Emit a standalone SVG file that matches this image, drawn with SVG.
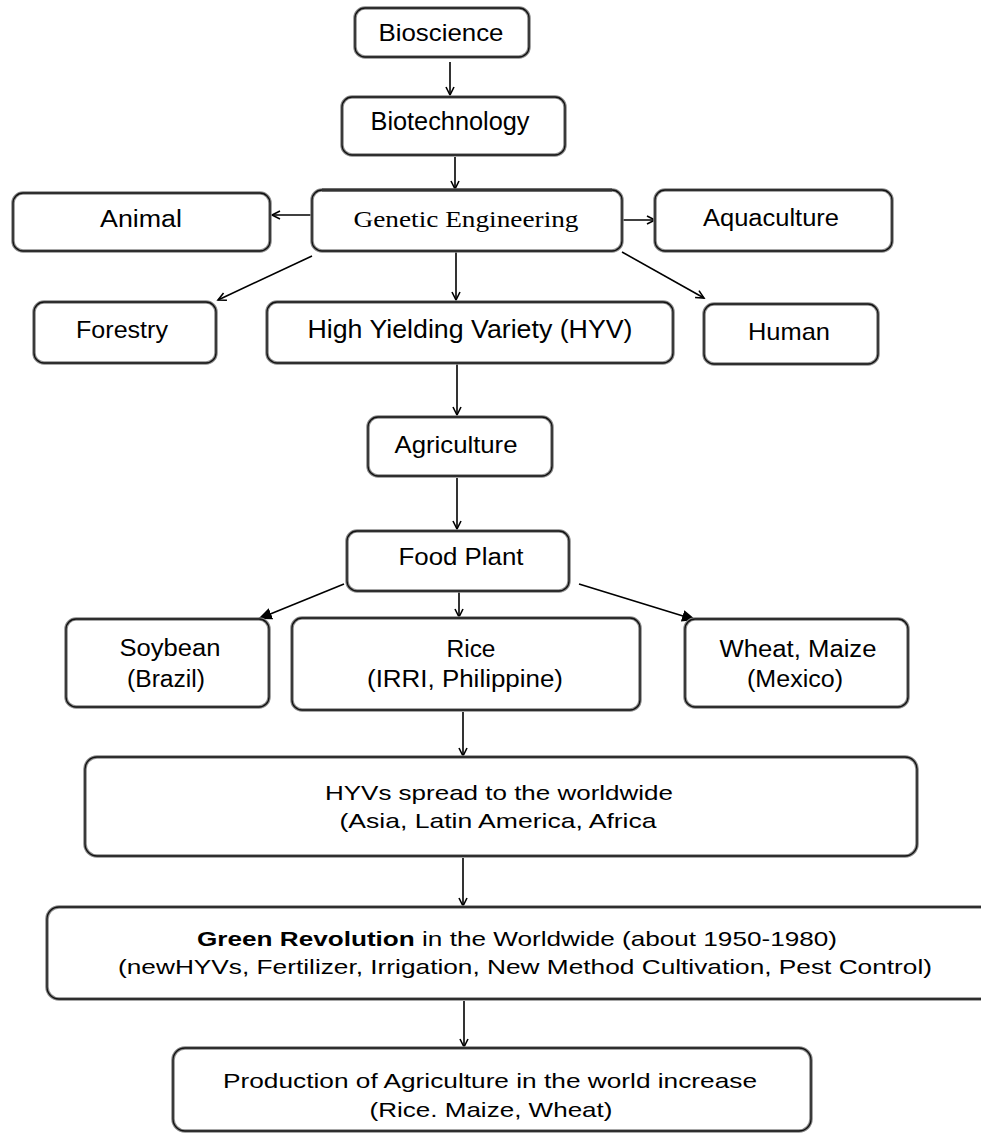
<svg xmlns="http://www.w3.org/2000/svg" width="981" height="1135" viewBox="0 0 981 1135">
<style>
.bx{fill:#fff;stroke:#8a8a8a;stroke-width:3.5}
.bl{fill:none;stroke:#111;stroke-width:1.3}
.t{font-family:"Liberation Sans",Arial,sans-serif;fill:#000;text-anchor:middle}
.s{font-family:"Liberation Serif","Times New Roman",serif;fill:#000;text-anchor:middle}
.c{stroke:#000;stroke-width:1.6;fill:none}
</style>
<defs>
<marker id="ar" markerUnits="userSpaceOnUse" markerWidth="12" markerHeight="12" refX="9" refY="5" orient="auto">
<path d="M1,1 L9,5 L1,9" fill="none" stroke="#000" stroke-width="1.6"/>
</marker>
<marker id="af" markerUnits="userSpaceOnUse" markerWidth="16" markerHeight="14" refX="14" refY="6" orient="auto">
<path d="M0,0 L14,6 L0,12 Z" fill="#000"/>
</marker>
</defs>
<rect width="981" height="1135" fill="#fff"/>

<g id="connectors">
<line class="c" x1="450" y1="62" x2="450" y2="95" marker-end="url(#ar)"/>
<line class="c" x1="455" y1="157" x2="455" y2="189" marker-end="url(#ar)"/>
<line class="c" x1="312" y1="215" x2="272" y2="215" marker-end="url(#ar)"/>
<line class="c" x1="622" y1="220" x2="655" y2="220" marker-end="url(#ar)"/>
<line class="c" x1="312" y1="256" x2="218" y2="300" marker-end="url(#ar)"/>
<line class="c" x1="456" y1="251" x2="456" y2="300" marker-end="url(#ar)"/>
<line class="c" x1="622" y1="252" x2="704" y2="298" marker-end="url(#ar)"/>
<line class="c" x1="457" y1="364" x2="457" y2="415" marker-end="url(#ar)"/>
<line class="c" x1="457" y1="478" x2="457" y2="529" marker-end="url(#ar)"/>
<line class="c" x1="344" y1="584" x2="258" y2="619" marker-end="url(#af)"/>
<line class="c" x1="459" y1="592" x2="459" y2="617" marker-end="url(#ar)"/>
<line class="c" x1="579" y1="584" x2="696" y2="620" marker-end="url(#af)"/>
<line class="c" x1="463" y1="712" x2="463" y2="756" marker-end="url(#ar)"/>
<line class="c" x1="463" y1="858" x2="463" y2="906" marker-end="url(#ar)"/>
<line class="c" x1="464" y1="1001" x2="464" y2="1047" marker-end="url(#ar)"/>
</g>

<g id="bioscience">
<rect class="bx" x="355" y="8" width="174" height="49" rx="10"/>
<rect class="bl" x="355" y="8" width="174" height="49" rx="10"/>
<text class="t" x="441" y="41" font-size="24" textLength="125" lengthAdjust="spacingAndGlyphs">Bioscience</text>
</g>

<g id="biotechnology">
<rect class="bx" x="342" y="97" width="223" height="58" rx="10"/>
<rect class="bl" x="342" y="97" width="223" height="58" rx="10"/>
<text class="t" x="450" y="130" font-size="25" textLength="159" lengthAdjust="spacingAndGlyphs">Biotechnology</text>
</g>

<g id="genetic-engineering">
<rect class="bx" x="312" y="190" width="310" height="61" rx="10"/>
<rect class="bl" x="312" y="190" width="310" height="61" rx="10"/>
<line x1="322" y1="190" x2="612" y2="190" stroke="#333" stroke-width="3"/>
<text class="s" x="466" y="227" font-size="24" textLength="225" lengthAdjust="spacingAndGlyphs">Genetic  Engineering</text>
</g>

<g id="animal">
<rect class="bx" x="13" y="193" width="257" height="58" rx="10"/>
<rect class="bl" x="13" y="193" width="257" height="58" rx="10"/>
<text class="t" x="141" y="227" font-size="23" textLength="82" lengthAdjust="spacingAndGlyphs">Animal</text>
</g>

<g id="aquaculture">
<rect class="bx" x="655" y="190" width="237" height="61" rx="10"/>
<rect class="bl" x="655" y="190" width="237" height="61" rx="10"/>
<text class="t" x="771" y="226" font-size="23" textLength="136" lengthAdjust="spacingAndGlyphs">Aquaculture</text>
</g>

<g id="forestry">
<rect class="bx" x="34" y="302" width="182" height="61" rx="10"/>
<rect class="bl" x="34" y="302" width="182" height="61" rx="10"/>
<text class="t" x="122" y="338" font-size="24" textLength="92" lengthAdjust="spacingAndGlyphs">Forestry</text>
</g>

<g id="hyv">
<rect class="bx" x="267" y="302" width="406" height="61" rx="10"/>
<rect class="bl" x="267" y="302" width="406" height="61" rx="10"/>
<text class="t" x="470" y="338" font-size="25" textLength="325" lengthAdjust="spacingAndGlyphs">High Yielding Variety (HYV)</text>
</g>

<g id="human">
<rect class="bx" x="704" y="304" width="174" height="60" rx="10"/>
<rect class="bl" x="704" y="304" width="174" height="60" rx="10"/>
<text class="t" x="789" y="340" font-size="24" textLength="82" lengthAdjust="spacingAndGlyphs">Human</text>
</g>

<g id="agriculture">
<rect class="bx" x="368" y="417" width="184" height="59" rx="10"/>
<rect class="bl" x="368" y="417" width="184" height="59" rx="10"/>
<text class="t" x="456" y="453" font-size="24" textLength="123" lengthAdjust="spacingAndGlyphs">Agriculture</text>
</g>

<g id="food-plant">
<rect class="bx" x="347" y="531" width="222" height="60" rx="10"/>
<rect class="bl" x="347" y="531" width="222" height="60" rx="10"/>
<text class="t" x="461" y="565" font-size="23" textLength="125" lengthAdjust="spacingAndGlyphs">Food Plant</text>
</g>

<g id="soybean">
<rect class="bx" x="66" y="619" width="203" height="88" rx="10"/>
<rect class="bl" x="66" y="619" width="203" height="88" rx="10"/>
<text class="t" x="170" y="656" font-size="23" textLength="101" lengthAdjust="spacingAndGlyphs">Soybean</text>
<text class="t" x="166" y="687" font-size="23" textLength="78" lengthAdjust="spacingAndGlyphs">(Brazil)</text>
</g>

<g id="rice">
<rect class="bx" x="292" y="618" width="348" height="92" rx="10"/>
<rect class="bl" x="292" y="618" width="348" height="92" rx="10"/>
<text class="t" x="471" y="657" font-size="23" textLength="49" lengthAdjust="spacingAndGlyphs">Rice</text>
<text class="t" x="465" y="687" font-size="23" textLength="196" lengthAdjust="spacingAndGlyphs">(IRRI, Philippine)</text>
</g>

<g id="wheat-maize">
<rect class="bx" x="685" y="619" width="223" height="88" rx="10"/>
<rect class="bl" x="685" y="619" width="223" height="88" rx="10"/>
<text class="t" x="798" y="657" font-size="23" textLength="157" lengthAdjust="spacingAndGlyphs">Wheat, Maize</text>
<text class="t" x="795" y="687" font-size="23" textLength="96" lengthAdjust="spacingAndGlyphs">(Mexico)</text>
</g>

<g id="hyvs-spread">
<rect class="bx" x="85" y="757" width="832" height="99" rx="12"/>
<rect class="bl" x="85" y="757" width="832" height="99" rx="12"/>
<text class="t" x="499" y="800" font-size="21" textLength="348" lengthAdjust="spacingAndGlyphs">HYVs spread to the worldwide</text>
<text class="t" x="498" y="828" font-size="21" textLength="317" lengthAdjust="spacingAndGlyphs">(Asia, Latin America, Africa</text>
</g>

<g id="green-revolution">
<rect class="bx" x="47" y="907" width="960" height="92" rx="12"/>
<rect class="bl" x="47" y="907" width="960" height="92" rx="12"/>
<text class="t" x="517" y="946" font-size="21" textLength="640" lengthAdjust="spacingAndGlyphs"><tspan font-weight="bold">Green Revolution</tspan> in the Worldwide  (about 1950-1980)</text>
<text class="t" x="525" y="974" font-size="21" textLength="814" lengthAdjust="spacingAndGlyphs">(newHYVs, Fertilizer, Irrigation, New Method Cultivation, Pest Control)</text>
</g>

<g id="production">
<rect class="bx" x="173" y="1048" width="638" height="83" rx="12"/>
<rect class="bl" x="173" y="1048" width="638" height="83" rx="12"/>
<text class="t" x="490" y="1088" font-size="21" textLength="534" lengthAdjust="spacingAndGlyphs">Production of Agriculture in the world increase</text>
<text class="t" x="491" y="1117" font-size="21" textLength="243" lengthAdjust="spacingAndGlyphs">(Rice. Maize, Wheat)</text>
</g>
</svg>
